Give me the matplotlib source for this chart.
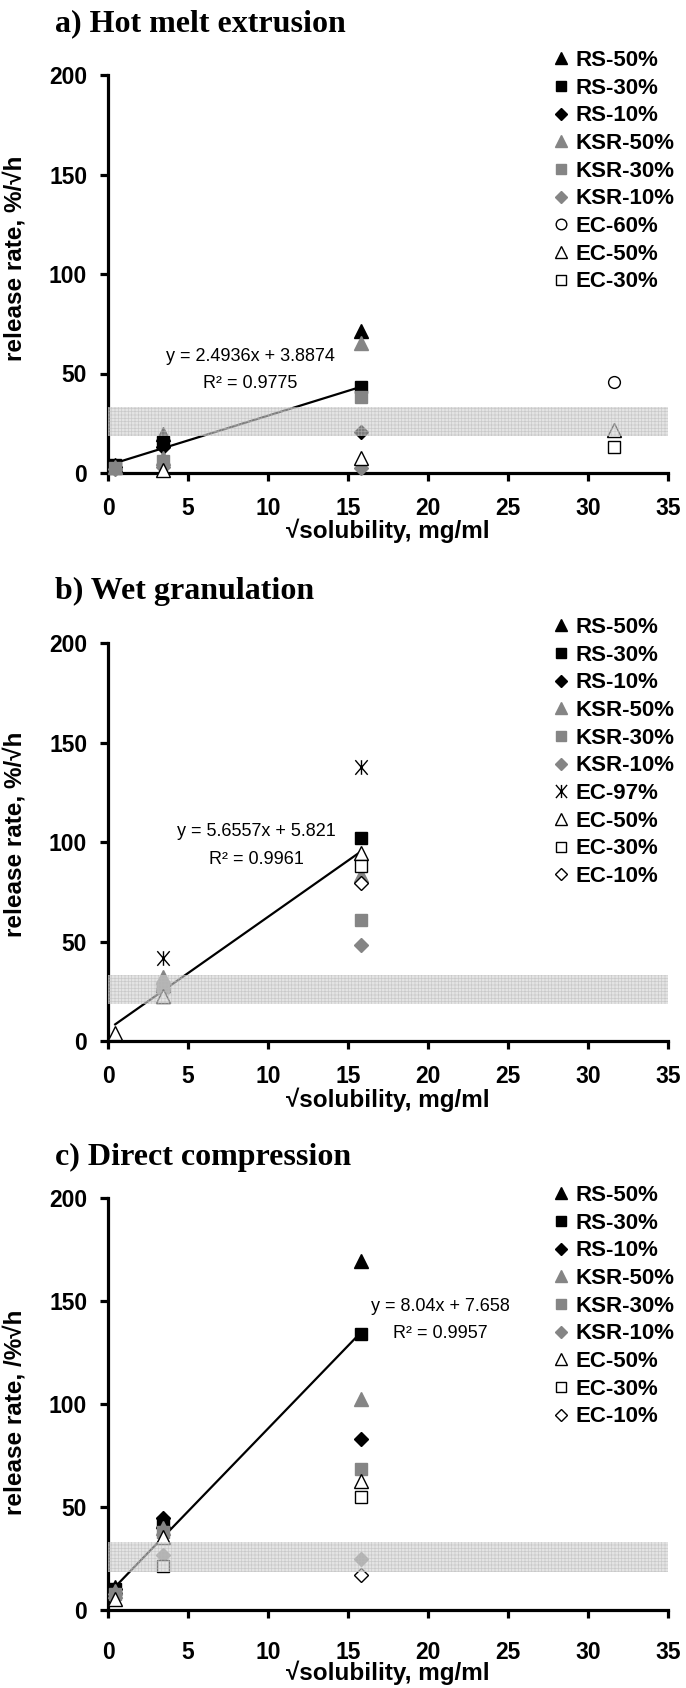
import numpy as np
import matplotlib.pyplot as plt
from matplotlib.lines import Line2D
from matplotlib.path import Path

plt.rcParams['font.family'] = ['Liberation Sans', 'DejaVu Sans']
plt.rcParams['font.weight'] = 'bold'
plt.rcParams['axes.labelweight'] = 'bold'
plt.rcParams['hatch.linewidth'] = 0.5

nan = np.nan

# sqrt(solubility) of the four drugs, mg/ml
SQRT_SOL = [0.45, 3.46, 15.81, 31.62]

# a) Hot melt extrusion
HME_LABELS = ['RS-50%', 'RS-30%', 'RS-10%', 'KSR-50%', 'KSR-30%', 'KSR-10%',
              'EC-60%', 'EC-50%', 'EC-30%']
HME_RS50 = [4.0, 19.5, 71.5, nan]
HME_RS30 = [4.0, 15.7, 43.1, nan]
HME_RS10 = [3.0, 13.0, 20.6, nan]
HME_KSR50 = [3.0, 7.4, 65.5, nan]
HME_KSR30 = [2.5, 6.0, 38.0, nan]
HME_KSR10 = [2.0, 3.0, 2.4, nan]
HME_EC60 = [nan, nan, nan, 45.6]
HME_EC50 = [nan, 1.5, 7.4, 21.6]
HME_EC30 = [nan, nan, nan, 13.2]
HME_FIT = (2.4936, 3.8874, 0.9775)   # slope, intercept, R2 (RS-30% series)

# b) Wet granulation
WG_LABELS = ['RS-50%', 'RS-30%', 'RS-10%', 'KSR-50%', 'KSR-30%', 'KSR-10%',
             'EC-97%', 'EC-50%', 'EC-30%', 'EC-10%']
WG_RS50 = [nan, 28.0, nan, nan]
WG_RS30 = [nan, 27.0, 102.2, nan]
WG_RS10 = [nan, 26.0, nan, nan]
WG_KSR50 = [nan, 32.3, 83.4, nan]
WG_KSR30 = [nan, 27.0, 60.8, nan]
WG_KSR10 = [nan, 26.0, 48.2, nan]
WG_EC97 = [nan, 41.5, 137.8, nan]
WG_EC50 = [3.9, 22.5, 94.3, nan]
WG_EC30 = [nan, nan, 88.1, nan]
WG_EC10 = [nan, nan, 79.2, nan]
WG_FIT = (5.6557, 5.821, 0.9961)     # EC-50% series

# c) Direct compression
DC_LABELS = ['RS-50%', 'RS-30%', 'RS-10%', 'KSR-50%', 'KSR-30%', 'KSR-10%',
             'EC-50%', 'EC-30%', 'EC-10%']
DC_RS50 = [11.0, 43.0, 169.6, nan]
DC_RS30 = [10.0, 42.0, 134.0, nan]
DC_RS10 = [10.0, 44.5, 83.0, nan]
DC_KSR50 = [9.0, 40.0, 102.4, nan]
DC_KSR30 = [8.0, 38.0, 68.3, nan]
DC_KSR10 = [8.0, 26.7, 24.6, nan]
DC_EC50 = [5.5, 35.3, 62.8, nan]
DC_EC30 = [nan, 21.4, 55.0, nan]
DC_EC10 = [nan, nan, 17.0, nan]
DC_FIT = (8.04, 7.658, 0.9957)       # RS-30% series

GRAY = '#858585'
# Excel-like asterisk: X plus a vertical bar
STAR = Path([(0, -1), (0, 1), (-0.85, -1), (0.85, 1), (-0.85, 1), (0.85, -1)],
            [Path.MOVETO, Path.LINETO] * 3)
# marker, face, edge, size
STYLE = {
    'RS-50%': ('^', 'black', 'black', 9.5),
    'RS-30%': ('s', 'black', 'black', 8.0),
    'RS-10%': ('D', 'black', 'black', 6.8),
    'KSR-50%': ('^', GRAY, GRAY, 9.5),
    'KSR-30%': ('s', GRAY, GRAY, 8.0),
    'KSR-10%': ('D', GRAY, GRAY, 6.8),
    'EC-97%': (STAR, 'black', 'black', 10.5),
    'EC-60%': ('o', 'white', 'black', 8.5),
    'EC-50%': ('^', 'white', 'black', 9.5),
    'EC-30%': ('s', 'white', 'black', 8.0),
    'EC-10%': ('D', 'white', 'black', 6.8),
}

fig = plt.figure(figsize=(6.86, 16.88), dpi=100)
W, H = 686, 1688


def panel(title, top_px, height_px, labels, series, fit, fit_series,
          eq_xy, r2_xy, ylabel, ylab_y, leg_top_px, title_base_px, xpad, xlabpad):
    ax = fig.add_axes([108 / W, 1 - (top_px + height_px) / H, 560 / W, height_px / H])
    for lab, ys in zip(labels, series):
        m, fc, ec, ms = STYLE[lab]
        ax.plot(SQRT_SOL, ys, ls='none', marker=m, ms=ms, mfc=fc, mec=ec,
                mew=1.0, zorder=3, clip_on=False)
    # trendline over the x range of the fitted series
    fx = np.array(SQRT_SOL)[~np.isnan(fit_series)]
    xs = np.array([fx.min(), fx.max()])
    ax.plot(xs, fit[0] * xs + fit[1], color='black', lw=1.6, zorder=2)
    ax.text(*eq_xy, f'y = {fit[0]}x + {fit[1]}', ha='center', va='center',
            fontsize=13, fontweight='normal', zorder=6)
    ax.text(*r2_xy, f'R² = {fit[2]}', ha='center', va='center',
            fontsize=13, fontweight='normal', zorder=6)
    # shaded target band
    ax.axhspan(18.5, 33, facecolor='#d2d2d2', edgecolor='#b8b8b8', hatch='+++++',
               lw=0, alpha=0.6, zorder=4)
    ax.set_xlim(0, 35)
    ax.set_ylim(0, 200)
    ax.set_xticks(range(0, 36, 5))
    ax.set_yticks(range(0, 201, 50))
    for s in ('top', 'right'):
        ax.spines[s].set_visible(False)
    for s in ('left', 'bottom'):
        ax.spines[s].set_linewidth(2.3)
    ax.tick_params(direction='out', length=6, width=2.3, labelsize=16.5, pad=9)
    ax.tick_params(axis='x', pad=xpad)
    ax.set_xlabel('√solubility, mg/ml', fontsize=17.5, labelpad=xlabpad)
    ax.set_ylabel(ylabel, fontsize=17.5)
    ax.yaxis.set_label_coords(-0.145, ylab_y)
    handles = []
    for lab in labels:
        m, fc, ec, ms = STYLE[lab]
        handles.append(Line2D([], [], ls='none', marker=m, ms=ms * 0.9, mfc=fc,
                              mec=ec, mew=1.0, label=lab))
    ax.legend(handles=handles, loc='upper left',
              bbox_to_anchor=(553 / W, 1 - leg_top_px / H),
              bbox_transform=fig.transFigure, frameon=False,
              prop={'size': 16, 'weight': 'bold'}, handlelength=0.7,
              handletextpad=0.3, labelspacing=0.3, borderpad=0, borderaxespad=0)
    fig.text(55 / W, 1 - title_base_px / H, title, family='Liberation Serif',
             fontweight='bold', fontsize=23, va='baseline', ha='left')
    return ax


panel('a) Hot melt extrusion', 75, 398, HME_LABELS,
      [HME_RS50, HME_RS30, HME_RS10, HME_KSR50, HME_KSR30, HME_KSR10,
       HME_EC60, HME_EC50, HME_EC30],
      HME_FIT, HME_RS30, (8.9, 58.4), (8.9, 45.1),
      'release rate, %/√h', 0.54, 50, 31, 11, -1)

panel('b) Wet granulation', 643, 398, WG_LABELS,
      [WG_RS50, WG_RS30, WG_RS10, WG_KSR50, WG_KSR30, WG_KSR10,
       WG_EC97, WG_EC50, WG_EC30, WG_EC10],
      WG_FIT, WG_EC50, (9.3, 105.2), (9.3, 91.0),
      'release rate, %/√h', 0.52, 617, 599, 11, 0)

panel('c) Direct compression', 1198, 412, DC_LABELS,
      [DC_RS50, DC_RS30, DC_RS10, DC_KSR50, DC_KSR30, DC_KSR10,
       DC_EC50, DC_EC30, DC_EC10],
      DC_FIT, DC_RS30, (20.8, 147.2), (20.8, 134.3),
      'release rate, /%√h', 0.48, 1185, 1165, 16, -2)

fig.savefig('out.png', dpi=100)
